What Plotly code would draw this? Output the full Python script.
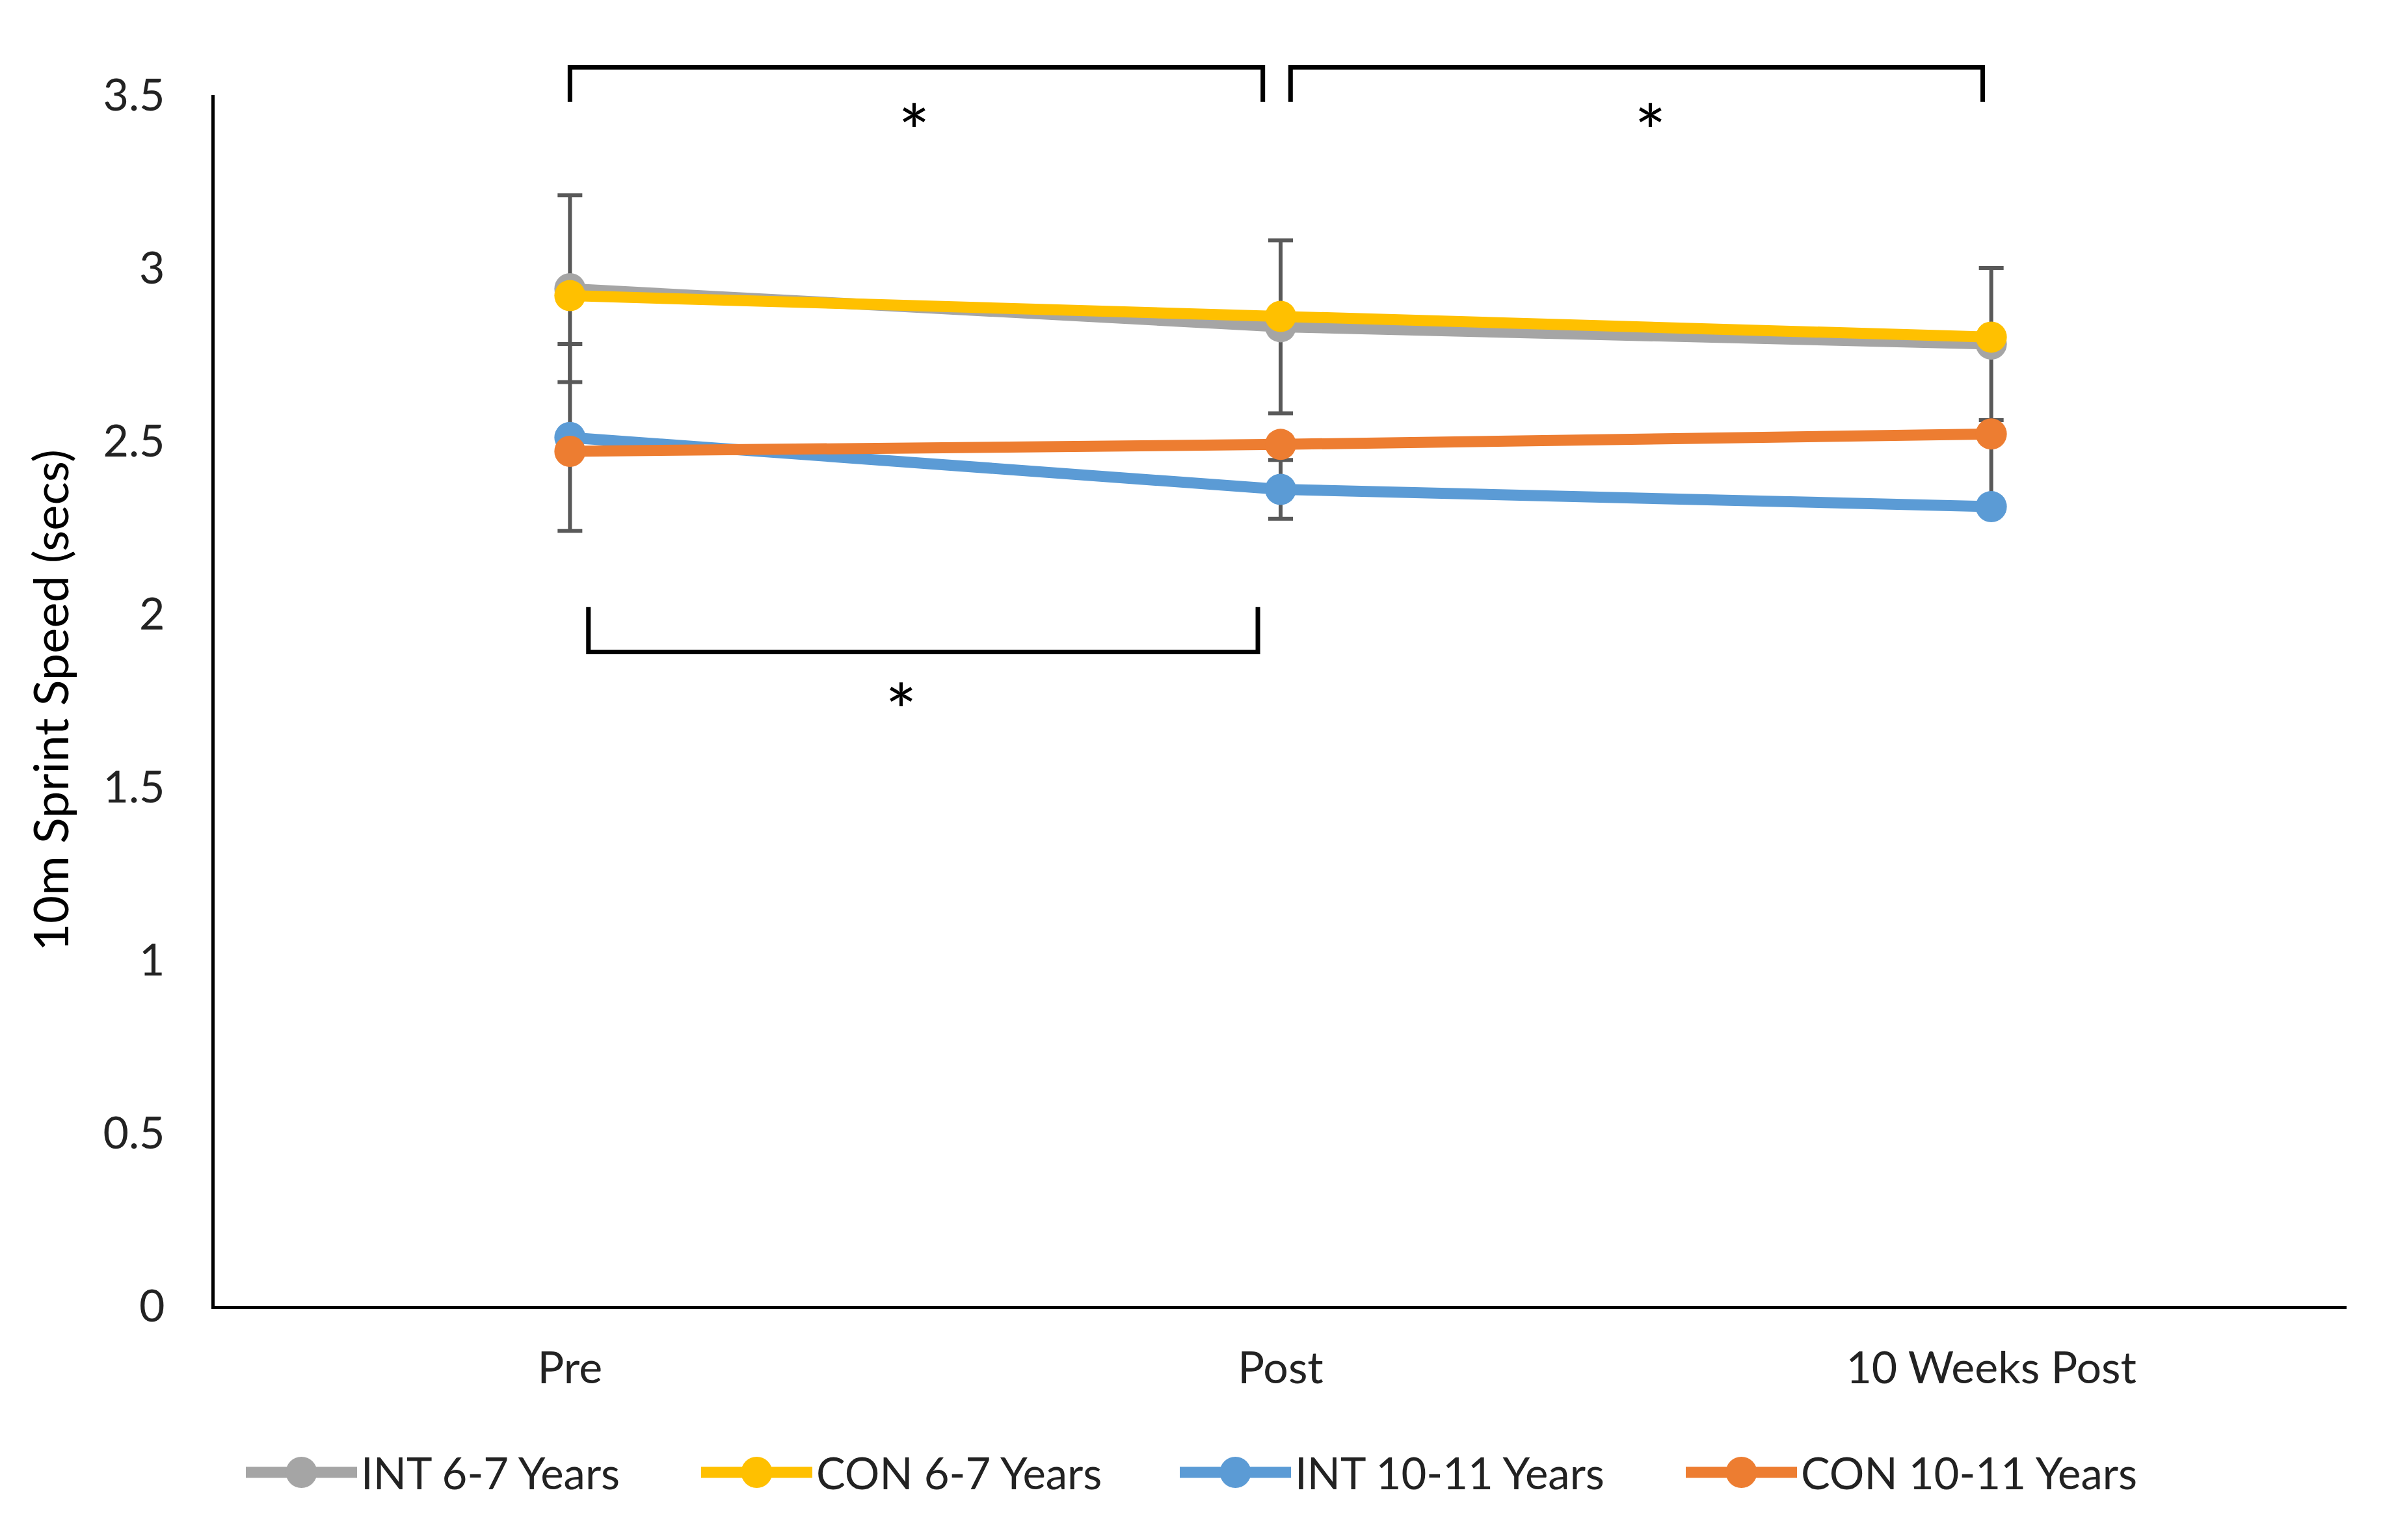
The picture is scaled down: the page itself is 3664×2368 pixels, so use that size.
import plotly.graph_objects as go

# ---------------- data ----------------
categories = ["Pre", "Post", "10 Weeks Post"]
series_names = ["INT 6-7 Years", "CON 6-7 Years", "INT 10-11 Years", "CON 10-11 Years"]
int_6_7 = [2.94, 2.83, 2.78]
con_6_7 = [2.92, 2.86, 2.80]
int_10_11 = [2.51, 2.36, 2.31]
con_10_11 = [2.47, 2.49, 2.52]
int_6_7_err = [0.27, 0.25, 0.22]
int_10_11_err_plus = [0.27, 0.085, 0.20]
int_10_11_err_minus = [0.27, 0.085, 0.0]
y_ticks = [0, 0.5, 1, 1.5, 2, 2.5, 3, 3.5]

# significance brackets: (from category index, to category index, leg end value, bar value)
brackets = [
    (0.0, 0.975, 3.48, 3.58),
    (1.014, 1.988, 3.48, 3.58),
    (0.026, 0.968, 2.02, 1.89),
]
stars = [(0.484, 3.40), (1.52, 3.40), (0.466, 1.725)]

colors = ["#A5A5A5", "#FFC000", "#5B9BD5", "#ED7D31"]
ERR_COLOR = "#595959"
FONT = "Lato"
Y_MAX = 3.5

W, H = 3664, 2368
OFF = 8  # page offset compensation
ML, MR, MT, MB = 330 - OFF, 56 + OFF, 146 - OFF, 360 + OFF
PW, PH = W - ML - MR, H - MT - MB

fig = go.Figure()
values = [int_6_7, con_6_7, int_10_11, con_10_11]
errs = [
    dict(type="data", array=int_6_7_err, symmetric=True, color=ERR_COLOR, thickness=6, width=19),
    None,
    dict(type="data", array=int_10_11_err_plus, arrayminus=int_10_11_err_minus, symmetric=False,
         color=ERR_COLOR, thickness=6, width=19),
    None,
]
for name, vals, col, err in zip(series_names, values, colors, errs):
    kw = {}
    if err is not None:
        kw["error_y"] = err
    fig.add_trace(go.Scatter(
        x=categories, y=vals, name=name, mode="lines+markers",
        line=dict(color=col, width=17),
        marker=dict(color=col, size=48, line=dict(width=0)),
        showlegend=False, **kw))


def ypaper(v):
    return v / Y_MAX


shapes = []
for x0, x1, yleg, ybar in brackets:
    shapes.append(dict(
        type="path", xref="x", yref="paper",
        path=f"M {x0},{ypaper(yleg)} L {x0},{ypaper(ybar)} L {x1},{ypaper(ybar)} L {x1},{ypaper(yleg)}",
        line=dict(color="black", width=7)))

annotations = []
for sx, sy in stars:
    annotations.append(dict(x=sx, y=ypaper(sy), xref="x", yref="paper", text="*",
                            showarrow=False, font=dict(family=FONT, size=115, color="black"),
                            xanchor="center", yanchor="middle"))

# custom legend (pixel layout of the reference converted to paper coordinates)
def px_x(px):
    return (px - OFF - ML) / PW


def px_y(py):
    return (H - MB - (py - OFF)) / PH


leg_y = 2264
leg_lefts = [378, 1078, 1814, 2592]
sym_w = 171
for name, col, left in zip(series_names, colors, leg_lefts):
    shapes.append(dict(type="line", xref="paper", yref="paper",
                       x0=px_x(left), x1=px_x(left + sym_w), y0=px_y(leg_y), y1=px_y(leg_y),
                       line=dict(color=col, width=17)))
    shapes.append(dict(type="circle", xref="paper", yref="paper",
                       xsizemode="pixel", ysizemode="pixel",
                       xanchor=px_x(left + sym_w / 2), yanchor=px_y(leg_y),
                       x0=-24, x1=24, y0=-24, y1=24,
                       fillcolor=col, line=dict(width=0)))
    annotations.append(dict(x=px_x(left + sym_w + 4), y=px_y(leg_y), xref="paper", yref="paper",
                            text=name, showarrow=False, xanchor="left", yanchor="middle",
                            font=dict(family=FONT, size=67, color="#222222")))

fig.update_layout(
    width=W, height=H,
    margin=dict(l=ML, r=MR, t=MT, b=MB),
    paper_bgcolor="white", plot_bgcolor="white",
    font=dict(family=FONT, size=67, color="#222222"),
    shapes=shapes, annotations=annotations,
    showlegend=False,
    xaxis=dict(type="category", range=[-0.5, 2.5], showgrid=False, zeroline=False,
               showline=True, linecolor="black", linewidth=5, ticks="",
               ticklabelstandoff=32, tickfont=dict(family=FONT, size=68, color="#222222")),
    yaxis=dict(range=[0, Y_MAX], tickvals=y_ticks, showgrid=False, zeroline=False,
               showline=True, linecolor="black", linewidth=5, ticks="",
               ticklabelstandoff=58, tickfont=dict(family=FONT, size=68, color="#222222")),
)
fig.update_yaxes(title=dict(text="10m Sprint Speed (secs)", standoff=30,
                            font=dict(family=FONT, size=74, color="black")))

fig.write_html("out.html")
